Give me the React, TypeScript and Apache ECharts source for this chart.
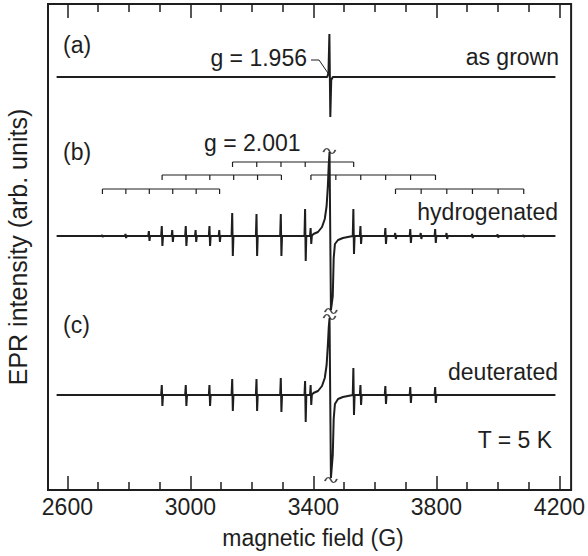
import React, { useEffect, useRef } from "react";
import * as echarts from "echarts";

const FONT = '"Liberation Sans", Arial, sans-serif';
const INK = "#1e1e1e";
const FS = 23;

const X_MIN = 2537;
const X_MAX = 4238;
const Y_MIN = 0;
const Y_MAX = 486;

const majorTicks = [2600, 3000, 3400, 3800, 4200];
const minorTicks = [2700, 2800, 2900, 3100, 3200, 3300, 3500, 3600, 3700, 3900, 4000, 4100];

// spectrum extent (G)
const traceStart = 2565;
const traceEnd = 4187;

// baselines (arb. units)
const baseA = 413;
const baseB = 254;
const baseC = 95;

// central lines: [field G, offset]
const mainA = [
  [3445, 0], [3449, 4], [3452, 43], [3455, -40], [3458, -3], [3463, 0],
];
const mainB = [
  [3350, 0], [3400, 2], [3415, 4], [3428, 9], [3437, 17], [3443, 30], [3447, 50],
  [3450, 72], [3452.5, 84], [3457, -74], [3463, -60], [3466, -22], [3470, -8],
  [3480, -4], [3496, -2], [3512, -1], [3545, 0],
];
const mainC = [
  [3350, 0], [3400, 2], [3415, 4], [3428, 9], [3437, 17], [3443, 30], [3447, 50],
  [3450, 68], [3452.5, 77], [3457, -83], [3463, -60], [3466, -24], [3470, -9],
  [3480, -4], [3496, -2], [3512, -1], [3545, 0],
];

// hyperfine lines: [field G, up, down]
const hfB = [
  [2714, 1, 1], [2790, 2, 2], [2866, 5, 5], [2908, 10, 10], [2942, 6, 6],
  [2986, 10, 10], [3018, 6, 6], [3063, 10, 10], [3095, 6, 6], [3137, 23, 20],
  [3216, 22, 20], [3295, 22, 20], [3374, 27, 25], [3392, 8, 8], [3531, 27, 18],
  [3554, 10, 8], [3635, 8, 8], [3667, 3, 3], [3716, 7, 7], [3750, 3, 3],
  [3797, 7, 7], [3834, 3, 3], [3917, 2, 2], [4000, 1.5, 1.5], [4084, 1, 1],
];
const hfC = [
  [2908, 10, 11], [2986, 10, 11], [3063, 10, 11], [3137, 16, 16], [3216, 16, 16],
  [3295, 17, 17], [3374, 14, 27], [3392, 10, 10], [3531, 27, 20], [3554, 10, 10],
  [3635, 9, 9], [3716, 8, 8], [3797, 8, 8],
];

// stick diagrams: [start G, end G, ticks, level]
const brackets = [
  [3137, 3531, 6, 328],
  [2908, 3296, 6, 315],
  [3392, 3797, 6, 315],
  [2714, 3095, 6, 301],
  [3667, 4084, 6, 301],
];

// axis-break marks: [field G, level]
const breakMarks = [
  [3452, 339],
  [3457, 179],
  [3452.5, 173],
  [3457, 10],
];

function buildTrace(base: number, main: number[][], hf: number[][]) {
  const pts: number[][] = [[traceStart, base], [traceEnd, base]];
  main.forEach(([x, v]) => pts.push([x, base + v]));
  hf.forEach(([x, up, down]) => {
    pts.push([x - 3, base]);
    pts.push([x - 1, base + up]);
    pts.push([x + 1, base - down]);
    pts.push([x + 3, base]);
  });
  pts.sort((a, b) => a[0] - b[0]);
  return pts;
}

const tickLine = { color: INK, width: 1.5 };

function xAxisDef(position: "top" | "bottom", ticks: number[], len: number, labels: boolean) {
  return {
    type: "value",
    position,
    min: X_MIN,
    max: X_MAX,
    axisLine: { show: false },
    splitLine: { show: false },
    axisTick: { show: true, inside: true, length: len, lineStyle: tickLine, customValues: ticks },
    axisLabel: labels
      ? {
          show: true,
          customValues: ticks,
          fontSize: FS,
          color: INK,
          fontFamily: FONT,
          margin: 5,
          formatter: (v: number) => String(v),
        }
      : { show: false },
  };
}

function txt(text: string, x: number, y: number, align: string, extra: any = {}, size = FS) {
  return {
    type: "text",
    x,
    y,
    ...extra,
    style: {
      text,
      font: `${size}px ${FONT}`,
      fill: INK,
      align,
      verticalAlign: "middle",
      textAlign: align,
      textVerticalAlign: "middle",
    },
  };
}

export default function App() {
  const ref = useRef<HTMLDivElement>(null);
  useEffect(() => {
    if (!ref.current) return;
    const chart = echarts.init(ref.current, null, { renderer: "svg" });
    const lineStyle = { color: INK, width: 2 };
    const option: any = {
      animation: false,
      backgroundColor: "#fff",
      grid: {
        left: 48,
        right: 14,
        top: 4,
        bottom: 66,
        show: true,
        borderColor: INK,
        borderWidth: 2,
        backgroundColor: "transparent",
      },
      xAxis: [
        xAxisDef("bottom", majorTicks, 14, true),
        xAxisDef("bottom", minorTicks, 8, false),
        xAxisDef("top", majorTicks, 14, false),
        xAxisDef("top", minorTicks, 8, false),
      ],
      yAxis: {
        type: "value",
        min: Y_MIN,
        max: Y_MAX,
        axisLine: { show: false },
        axisTick: { show: false },
        axisLabel: { show: false },
        splitLine: { show: false },
      },
      series: [
        {
          type: "line",
          xAxisIndex: 0,
          data: buildTrace(baseA, mainA, []),
          showSymbol: false,
          lineStyle,
          silent: true,
        },
        {
          type: "line",
          xAxisIndex: 0,
          data: buildTrace(baseB, mainB, hfB),
          showSymbol: false,
          lineStyle,
          silent: true,
        },
        {
          type: "line",
          xAxisIndex: 0,
          data: buildTrace(baseC, mainC, hfC),
          showSymbol: false,
          lineStyle,
          silent: true,
        },
        {
          type: "custom",
          xAxisIndex: 0,
          data: brackets,
          silent: true,
          encode: { x: [0, 1], y: 3 },
          renderItem: (params: any, api: any) => {
            const x0 = api.value(0);
            const x1 = api.value(1);
            const n = api.value(2);
            const lvl = api.value(3);
            const p0 = api.coord([x0, lvl]);
            const p1 = api.coord([x1, lvl]);
            const children: any[] = [
              {
                type: "line",
                shape: { x1: p0[0], y1: p0[1], x2: p1[0], y2: p1[1] },
                style: { stroke: INK, lineWidth: 1.2 },
              },
            ];
            for (let i = 0; i < n; i++) {
              const px = p0[0] + ((p1[0] - p0[0]) * i) / (n - 1);
              children.push({
                type: "line",
                shape: { x1: px, y1: p0[1], x2: px, y2: p0[1] + 5 },
                style: { stroke: INK, lineWidth: 1.2 },
              });
            }
            return { type: "group", children };
          },
        },
        {
          type: "scatter",
          xAxisIndex: 0,
          data: breakMarks,
          silent: true,
          symbol: "path://M0,4 C2,0 5,0 7,3 C9,6 12,6 14,2",
          symbolSize: [12, 5],
          itemStyle: { color: "none", borderColor: INK, borderWidth: 1.2 },
        },
      ],
      graphic: [
        txt("(a)", 63, 45, "left"),
        txt("g = 1.956", 307, 58, "right"),
        {
          type: "polyline",
          shape: { points: [[311, 60], [319, 60], [330, 76]] },
          style: { stroke: INK, lineWidth: 1, fill: "none" },
        },
        txt("as grown", 559, 57, "right"),
        txt("(b)", 63, 152, "left"),
        txt("g = 2.001", 204, 143, "left"),
        txt("hydrogenated", 558, 212, "right"),
        txt("(c)", 63, 325, "left"),
        txt("deuterated", 558, 372, "right"),
        txt("T = 5 K", 552, 440, "right"),
        txt("magnetic field (G)", 313, 538, "center"),
        txt("EPR intensity (arb. units)", 18, 247, "center", { rotation: Math.PI / 2 }, 25),
      ],
    };
    chart.setOption(option);
    return () => chart.dispose();
  }, []);
  return (
    <div
      ref={ref}
      style={{ position: "fixed", left: 0, top: 0, width: 588, height: 556, background: "#fff" }}
    />
  );
}
